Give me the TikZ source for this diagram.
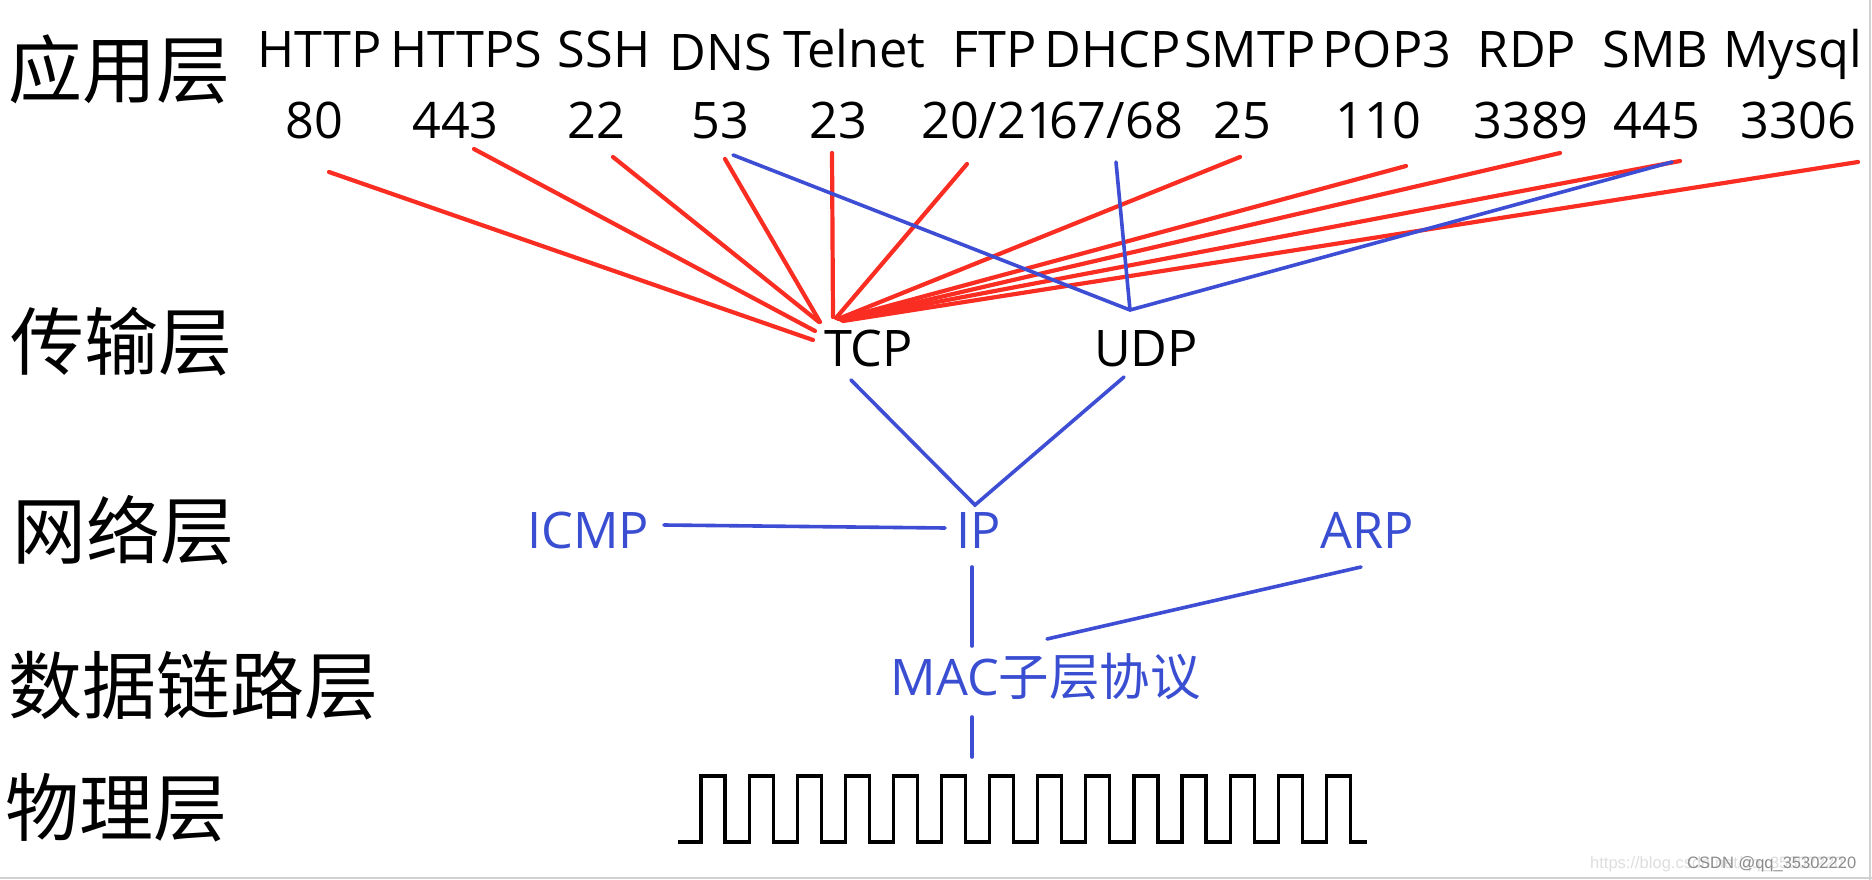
\documentclass[tikz,border=0pt]{standalone}
\usepackage{fontspec}
\setmainfont{Open Sans}
\newfontfamily\cjk{Noto Sans CJK SC}
\newfontfamily\wmfont{Liberation Sans}
\definecolor{redL}{RGB}{250,45,35}
\definecolor{blueL}{RGB}{62,78,212}
\definecolor{blueT}{RGB}{58,78,210}
\begin{document}
\begin{tikzpicture}[x=1pt,y=-1pt,
  lat/.style={inner sep=0pt, anchor=base, font=\fontsize{50.4}{60}\selectfont},
  proto/.style={lat, text=blueT},
  layer/.style={inner sep=0pt, anchor=west, font=\cjk\fontsize{74}{80}\selectfont},
  redl/.style={draw=redL, line width=4.2pt, line cap=round},
  bluel/.style={draw=blueL, line width=3.6pt, line cap=round},
  wave/.style={draw=black, line width=3.2pt},
  wmA/.style={inner sep=0pt, anchor=base west, text=black!13, font=\wmfont\fontsize{16.5}{18}\selectfont},
  wmB/.style={inner sep=0pt, anchor=base west, text=black!45, font=\wmfont\fontsize{16.5}{18}\selectfont},
  frame/.style={draw=black!18, line width=2pt}]
\useasboundingbox (0,0) rectangle (1872,880);
\fill[white] (0,0) rectangle (1872,880);

% layer labels
\node[layer] (Lapp) at (8,69) {应用层};
\node[layer] (Ltra) at (10,342) {传输层};
\node[layer] (Lnet) at (12,530) {网络层};
\node[layer] (Llnk) at (8,686) {数据链路层};
\node[layer] (Lphy) at (5,808) {物理层};

% application protocols
\node[lat] (nHTTP) at (319.5,68) {HTTP};
\node[lat] (nHTTPS) at (466.5,68) {HTTPS};
\node[lat] (nSSH) at (604,68) {SSH};
\node[lat] (nDNS) at (720.5,71) {DNS};
\node[lat] (nTelnet) at (854.5,68) {Telnet};
\node[lat] (nFTP) at (995,68) {FTP};
\node[lat] (nDHCP) at (1113,68) {DHCP};
\node[lat] (nSMTP) at (1250,68) {SMTP};
\node[lat] (nPOP) at (1387,68) {POP3};
\node[lat] (nRDP) at (1527,68) {RDP};
\node[lat] (nSMB) at (1655.5,68) {SMB};
\node[lat] (nMysql) at (1792.5,68) {Mysql};

% ports
\node[lat] (p80) at (314,139) {80};
\node[lat] (p443) at (455.5,139) {443};
\node[lat] (p22) at (596,139) {22};
\node[lat] (p53) at (720.5,139) {53};
\node[lat] (p23) at (838,139) {23};
\node[lat, anchor=base west] (p2021) at (921,139) {20/21};
\node[lat, anchor=base east] (p6768) at (1183,139) {67/68};
\node[lat] (p25) at (1242.5,139) {25};
\node[lat] (p110) at (1378.5,139) {110};
\node[lat] (p3389) at (1531,139) {3389};
\node[lat] (p445) at (1657,139) {445};
\node[lat] (p3306) at (1798.5,139) {3306};

% transport
\node[lat] (TCP) at (868.5,366) {TCP};
\node[lat] (UDP) at (1146,366) {UDP};

% network
\node[proto] (ICMP) at (588,548) {ICMP};
\node[proto] (IP) at (978.5,548) {IP};
\node[proto] (ARP) at (1367.5,548) {ARP};

% data link
\node[proto] (MAC) at (1045.5,695) {MAC{\cjk 子层协议}};

% connector end points
\coordinate (a80) at (329,172);   \coordinate (b80) at (813,340);
\coordinate (a443) at (474,149);  \coordinate (b443) at (815,331);
\coordinate (a22) at (613,157);   \coordinate (b22) at (819,322);
\coordinate (a53) at (725,159);   \coordinate (b53) at (820,322);
\coordinate (a23) at (832,153);   \coordinate (b23) at (833,317);
\coordinate (aFTP) at (967,164);  \coordinate (bFTP) at (836,318);
\coordinate (a25) at (1240,157);  \coordinate (b25) at (838,319);
\coordinate (a110) at (1406,166); \coordinate (b110) at (840,319);
\coordinate (a3389) at (1560,153);\coordinate (b3389) at (841,320);
\coordinate (a445) at (1680,161); \coordinate (b445) at (842,320);
\coordinate (a3306) at (1858,162);\coordinate (b3306) at (843,321);

\coordinate (u53) at (733,155);
\coordinate (uDHCP) at (1116,162);
\coordinate (uSMB) at (1672,162);
\coordinate (udpTop) at (1130,310);

\coordinate (tcpBot) at (851,380);
\coordinate (udpBot) at (1124,377);
\coordinate (ipTop) at (975,505);
\coordinate (icmpR) at (664,525);
\coordinate (ipL) at (945,528);
\coordinate (ipBot) at (972,567);
\coordinate (macTop) at (972,646);
\coordinate (arpBot) at (1361,567);
\coordinate (macR) at (1047,639);
\coordinate (macBot) at (972,717);
\coordinate (waveTop) at (972,757);

% red connectors (TCP)
\foreach \p in {80,443,22,53,23,FTP,25,110,3389,445,3306}
  \draw[redl] (a\p) -- (b\p);

% blue connectors (UDP)
\draw[bluel] (u53) -- (udpTop) -- (uSMB);
\draw[bluel] (uDHCP) -- (udpTop);

% lower connectors
\draw[bluel] (tcpBot) -- (ipTop) -- (udpBot);
\draw[bluel] (icmpR) -- (ipL);
\draw[bluel] (ipBot) -- (macTop);
\draw[bluel] (arpBot) -- (macR);
\draw[bluel] (macBot) -- (waveTop);

% physical signal
\coordinate (w0) at (678,842);
\draw[wave] (w0) -- ++(23,0)
  \foreach \k in {1,...,13}{ -- ++(0,-66) -- ++(24,0) -- ++(0,66) -- ++(24.1,0) }
  -- ++(0,-66) -- ++(24,0) -- ++(0,66) -- ++(17,0);

% frame edges
\draw[frame] (1870,0) -- (1870,880);
\draw[frame] (0,878) -- (1872,878);

% watermark
\node[wmA] (wmurl) at (1590,868) {https://blog.csdn.net/qq\_35302220};
\node[wmB] (wmcsdn) at (1687,868) {CSDN @qq\_35302220};
\end{tikzpicture}
\end{document}
